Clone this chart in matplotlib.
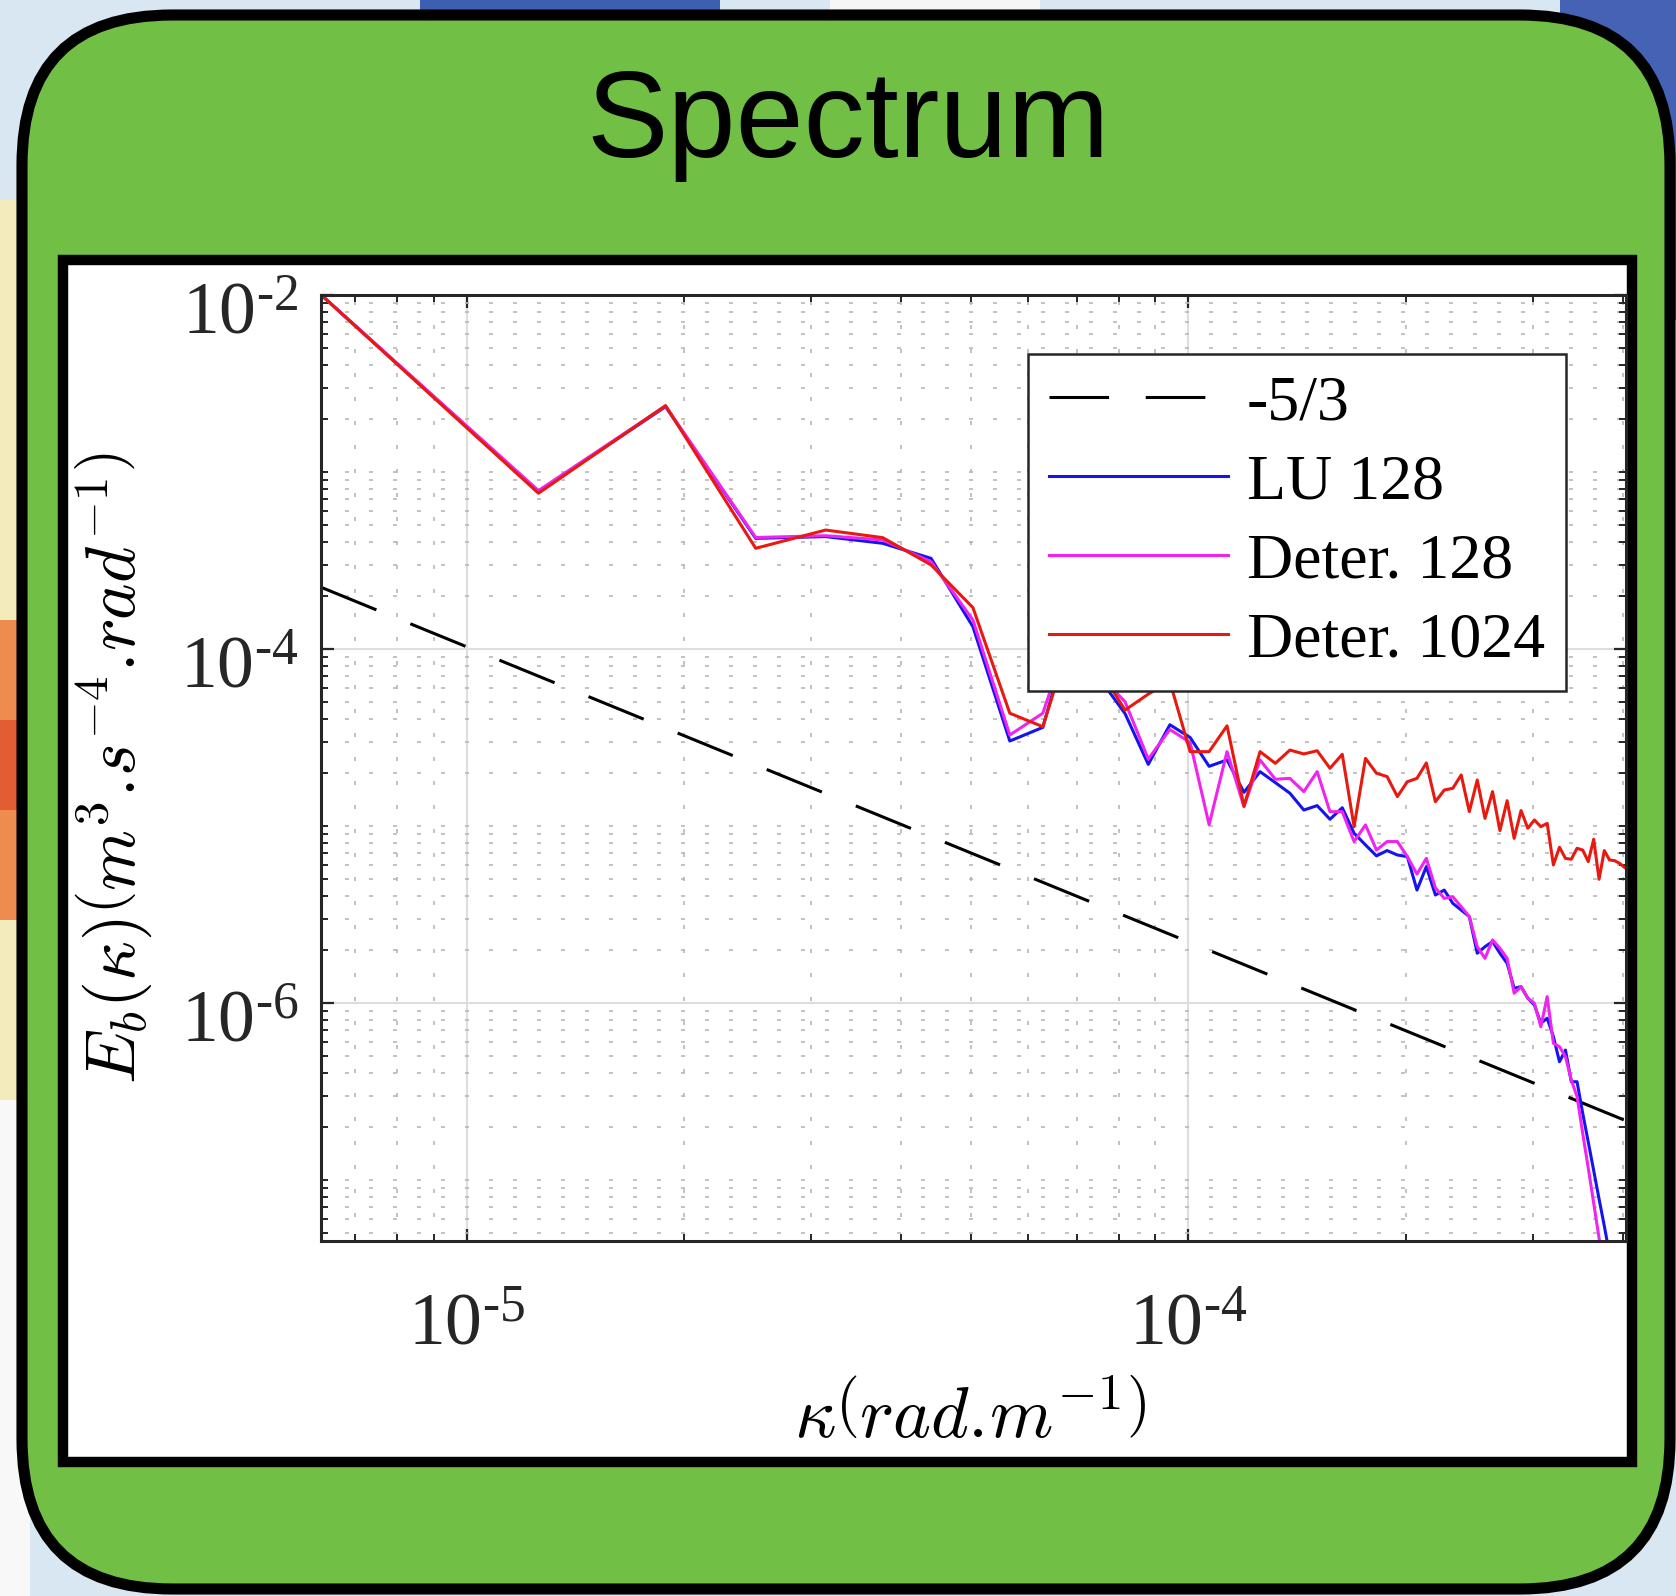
import numpy as np
import matplotlib
matplotlib.use("Agg")
import matplotlib.pyplot as plt
from matplotlib.patches import FancyBboxPatch, Rectangle
from matplotlib.ticker import FixedLocator, FixedFormatter, NullFormatter
from matplotlib.transforms import ScaledTranslation

'''
Spectrum panel: buoyancy spectrum E_b(kappa) for LU 128, Deter. 128, Deter. 1024
with a -5/3 reference slope. Values read off the poster figure (log10 of E_b).
'''

plt.rcParams['mathtext.fontset'] = 'custom'
plt.rcParams['mathtext.rm'] = 'Liberation Serif'
plt.rcParams['mathtext.it'] = 'Liberation Serif:italic'
plt.rcParams['mathtext.bf'] = 'Liberation Serif:bold'

####DATA######
L_DOMAIN = 1.0e6          # m, so kappa = n * 2*pi/L
mode = np.arange(1, 65)   # wavenumber index 1..64

lu128_log = [-2.000, -3.111, -2.631, -3.375, -3.365, -3.403, -3.488, -3.874, -4.520, -4.443,
             -3.850, -4.170, -4.365, -4.652, -4.428, -4.500, -4.663, -4.627, -4.810, -4.693,
             -4.755, -4.815, -4.910, -4.885, -4.962, -4.897, -5.041, -5.107, -5.169, -5.139,
             -5.164, -5.173, -5.362, -5.230, -5.390, -5.362, -5.437, -5.475, -5.512, -5.719,
             -5.682, -5.653, -5.719, -5.776, -5.917, -5.908, -5.973, -6.011, -6.115, -6.086,
             -6.190, -6.332, -6.266, -6.445, -6.445, -6.623, -6.785, -6.947, -7.107, -7.260,
             -7.420, -7.580, -7.740, -7.900]

deter128_log = [-2.000, -3.105, -2.627, -3.370, -3.360, -3.384, -3.507, -3.836, -4.486, -4.363,
                -3.860, -4.150, -4.298, -4.622, -4.455, -4.528, -4.993, -4.580, -4.891, -4.627,
                -4.736, -4.731, -4.806, -4.693, -4.919, -4.919, -5.088, -4.994, -5.136, -5.088,
                -5.088, -5.173, -5.272, -5.183, -5.350, -5.409, -5.400, -5.456, -5.512, -5.682,
                -5.748, -5.644, -5.691, -5.748, -5.945, -5.908, -5.973, -6.002, -6.134, -5.964,
                -6.228, -6.247, -6.303, -6.435, -6.529, -6.736, -6.932, -7.131, -7.328, -7.530,
                -7.730, -7.930, -8.130, -8.330]

deter1024_log = [-2.000, -3.120, -2.625, -3.431, -3.328, -3.371, -3.525, -3.766, -4.363, -4.439,
                 -3.900, -4.120, -4.345, -4.255, -4.185, -4.580, -4.580, -4.434, -4.888, -4.580,
                 -4.646, -4.571, -4.593, -4.575, -4.674, -4.595, -5.004, -4.618, -4.702, -4.721,
                 -4.834, -4.750, -4.731, -4.644, -4.863, -4.797, -4.787, -4.712, -4.919, -4.740,
                 -4.957, -4.806, -5.026, -4.857, -5.070, -4.913, -5.013, -4.966, -5.004, -4.985,
                 -5.220, -5.120, -5.183, -5.188, -5.126, -5.136, -5.201, -5.075, -5.301, -5.139,
                 -5.192, -5.196, -5.211, -5.234]

# -5/3 reference line, end points
slope_k = [6.283e-6, 4.04e-4]
slope_E = [2.23e-4, 2.16e-7]

labels = ['-5/3', 'LU 128', 'Deter. 128', 'Deter. 1024']
xticks = [1e-5, 1e-4]
xticklabels = [r'$10^{\text{-}5}$', r'$10^{\text{-}4}$']
yticks = [1e-6, 1e-4, 1e-2]
yticklabels = [r'$10^{\text{-}6}$', r'$10^{\text{-}4}$', r'$10^{\text{-}2}$']
#--------------------

W, H = 1676, 1596
fig = plt.figure(figsize=(W/100, H/100), dpi=100)
fig.patch.set_facecolor('#d8e7f2')

# background / poster box ------------
bg = fig.add_axes([0, 0, 1, 1])
bg.set_xlim(0, W); bg.set_ylim(H, 0); bg.axis('off')
bg.add_patch(Rectangle((420, 0), 300, 18, color='#3d5fb2', lw=0))
bg.add_patch(Rectangle((830, 0), 210, 18, color='#f6f6f6', lw=0))
bg.add_patch(Rectangle((1560, 0), 116, 320, color='#4562b5', lw=0))
bg.add_patch(Rectangle((0, 200), 30, 900, color='#f3ebbb', lw=0))
bg.add_patch(Rectangle((0, 620), 30, 300, color='#ee8c50', lw=0))
bg.add_patch(Rectangle((0, 720), 30, 90, color='#e25c34', lw=0))
bg.add_patch(Rectangle((0, 1100), 30, 496, color='#f8f8f8', lw=0))

bg.add_patch(FancyBboxPatch((22, 15), 1648, 1574,
                            boxstyle='round,pad=0,rounding_size=150',
                            facecolor='#71bf44', edgecolor='black', lw=8))
bg.add_patch(Rectangle((63, 260), 1569, 1202, facecolor='white',
                       edgecolor='black', lw=7.5))
bg.text(848, 157, 'Spectrum', ha='center', va='baseline', fontsize=88,
        family='Liberation Sans', color='black')

# main plot -------------------------
kappa = mode * 2*np.pi / L_DOMAIN
ax = fig.add_axes([320.6/W, 1 - 1241/H, (1626 - 320.6)/W, (1241 - 295)/H])
ax.set_facecolor('white')

ax.plot(slope_k, slope_E, color='black', lw=2.2, dashes=(19.5, 12), label=labels[0])
ax.plot(kappa, 10**np.array(lu128_log), color='#1414f0', lw=2.2, label=labels[1])
ax.plot(kappa, 10**np.array(deter128_log), color='#f024f0', lw=2.2, label=labels[2])
ax.plot(kappa, 10**np.array(deter1024_log), color='#e81a10', lw=2.2, label=labels[3])

ax.set_xscale('log'); ax.set_yscale('log')
ax.set_xlim(6.27e-6, 4.04e-4)
ax.set_ylim(4.52e-8, 1e-2)

xminor = [m*10.0**d for d in (-6, -5, -4) for m in range(1, 10)]
xminor = [v for v in xminor if v not in xticks]
yminor = [m*10.0**d for d in range(-8, -1) for m in range(1, 10)]
yminor = [v for v in yminor if v not in yticks]
ax.xaxis.set_major_locator(FixedLocator(xticks))
ax.xaxis.set_major_formatter(FixedFormatter(xticklabels))
ax.xaxis.set_minor_locator(FixedLocator(xminor))
ax.xaxis.set_minor_formatter(NullFormatter())
ax.yaxis.set_major_locator(FixedLocator(yticks))
ax.yaxis.set_major_formatter(FixedFormatter(yticklabels))
ax.yaxis.set_minor_locator(FixedLocator(yminor))
ax.yaxis.set_minor_formatter(NullFormatter())

ax.grid(which='major', color='#dedede', lw=1.5, ls='-')
ax.grid(which='minor', color='#b8b8b8', lw=1.2, ls=(0, (2.4, 12)))
ax.set_axisbelow(True)

for s in ax.spines.values():
    s.set_color('#262626'); s.set_linewidth(2.2)
ax.tick_params(which='both', direction='in', top=True, right=True, color='#262626')
ax.tick_params(which='major', length=9, width=1.6)
ax.tick_params(which='minor', length=5, width=1.4)
ax.tick_params(axis='x', which='major', labelsize=53, pad=34, labelcolor='#262626')
ax.tick_params(axis='y', which='major', labelsize=53, pad=16, labelcolor='#262626')

# tick labels sit a bit lower than the tick in the original
shift = ScaledTranslation(0, -0.10, fig.dpi_scale_trans)
for lab in ax.get_yticklabels():
    lab.set_transform(lab.get_transform() + shift)

ax.set_xlabel(r'$\kappa\left(rad.\!m^{-1}\right)$', fontsize=52, math_fontfamily='cm')
ax.set_ylabel(r'$E_b(\kappa)\left(m^3.\!s^{-4}.\!rad^{-1}\right)$', fontsize=50,
              math_fontfamily='cm')
ax.xaxis.set_label_coords(0.4975, -0.15)
ax.yaxis.set_label_coords(-0.128, 0.5)

leg = ax.legend(loc='upper right', bbox_to_anchor=(0.9537, 0.9376), borderaxespad=0,
                prop={'family': 'Liberation Serif', 'size': 46}, handlelength=2.8,
                handletextpad=0.3, labelspacing=0.32, borderpad=0.32,
                fancybox=False, framealpha=1)
leg.get_frame().set_edgecolor('#262626')
leg.get_frame().set_linewidth(1.8)

fig.savefig('out.png', dpi=100, facecolor=fig.get_facecolor())
